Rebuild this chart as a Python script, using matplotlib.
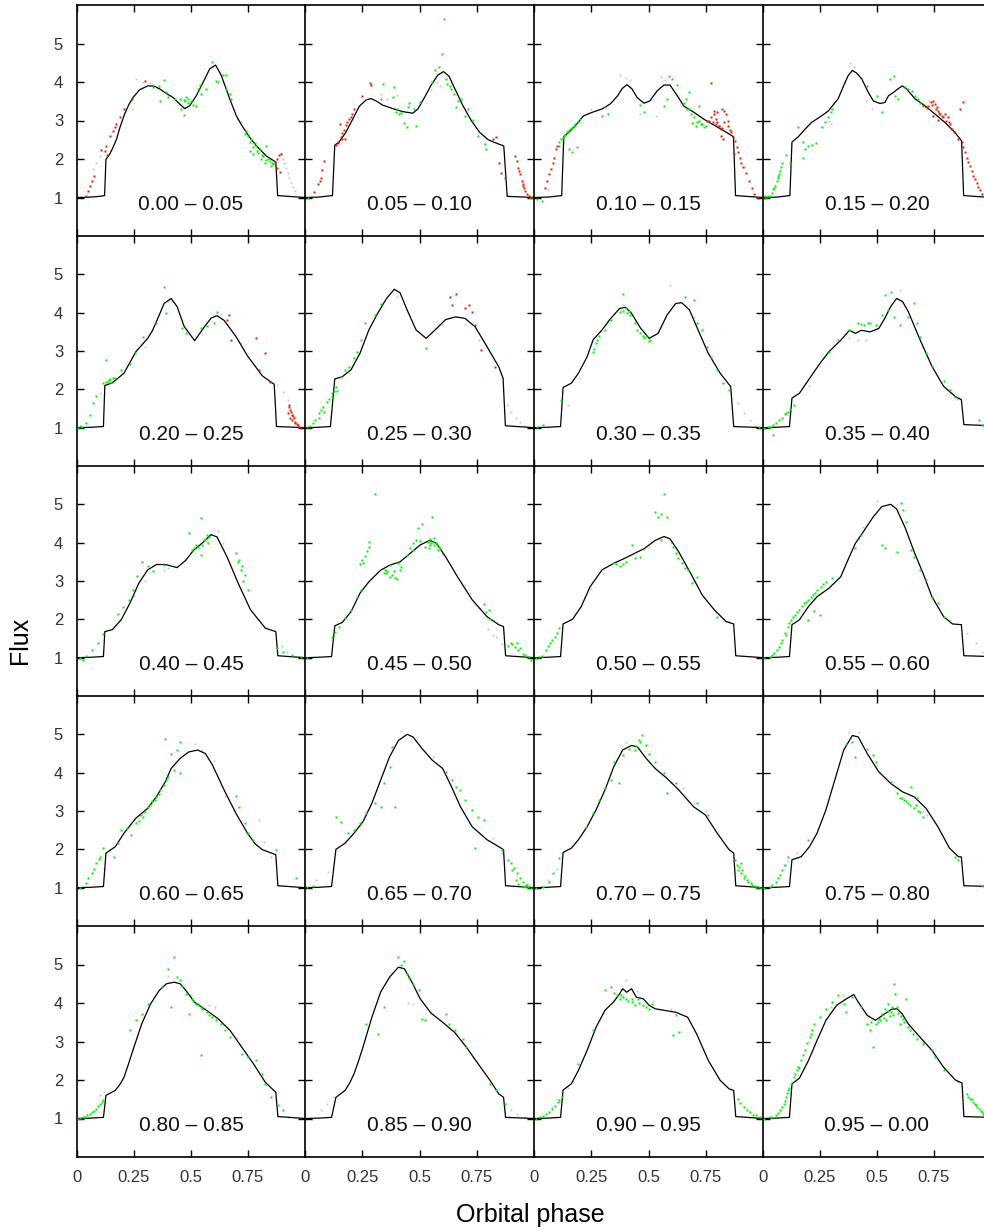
import matplotlib
matplotlib.use('Agg')
import matplotlib.pyplot as plt

# ---------------- data ----------------
panel_labels = ['0.00 \u2013 0.05', '0.05 \u2013 0.10', '0.10 \u2013 0.15', '0.15 \u2013 0.20',
                '0.20 \u2013 0.25', '0.25 \u2013 0.30', '0.30 \u2013 0.35', '0.35 \u2013 0.40',
                '0.40 \u2013 0.45', '0.45 \u2013 0.50', '0.50 \u2013 0.55', '0.55 \u2013 0.60',
                '0.60 \u2013 0.65', '0.65 \u2013 0.70', '0.70 \u2013 0.75', '0.75 \u2013 0.80',
                '0.80 \u2013 0.85', '0.85 \u2013 0.90', '0.90 \u2013 0.95', '0.95 \u2013 0.00']
x_ticks = [0, 0.25, 0.5, 0.75]
x_ticklabels = ['0', '0.25', '0.5', '0.75']
y_ticks = [1, 2, 3, 4, 5]

model_01 = [(0,1.0),(0.06,1.01),(0.10,1.03),(0.121,1.05),(0.127,1.99),(0.143,2.12),(0.158,2.3),(0.173,2.51),(0.19,2.85),(0.209,3.17),(0.228,3.42),(0.246,3.6),(0.275,3.8),(0.311,3.9),(0.34,3.89),(0.363,3.82),(0.392,3.7),(0.421,3.6),(0.45,3.43),(0.472,3.31),(0.494,3.38),(0.523,3.64),(0.553,3.99),(0.582,4.34),(0.608,4.44),(0.633,4.17),(0.67,3.56),(0.699,3.12),(0.72,2.9),(0.743,2.69),(0.765,2.5),(0.787,2.34),(0.83,2.08),(0.872,1.92),(0.880,1.05),(0.95,1.02),(1.0,1.0)]
green_01 = [(0.333,3.86),(0.36,3.89),(0.38,4.05),(0.363,3.51),(0.392,3.73),(0.428,3.56),(0.45,3.57),(0.468,3.53),(0.48,3.6),(0.458,3.3),(0.469,3.14),(0.487,3.45),(0.509,3.4),(0.523,3.38),(0.53,3.82),(0.538,3.92),(0.567,3.83),(0.594,4.53),(0.611,4.03),(0.618,3.99),(0.64,4.18),(0.652,4.18),(0.655,3.82),(0.67,3.69),(0.677,3.57),(0.743,2.73),(0.75,2.6),(0.765,2.51),(0.779,2.41),(0.787,2.34),(0.801,2.25),(0.794,2.15),(0.816,2.08),(0.83,2.34),(0.838,2.01),(0.852,1.83),(0.86,1.86),(0.757,2.21),(0.772,2.12),(0.808,1.99),(0.823,1.9),(0.40,3.62),(0.50,3.5),(0.545,3.7),(1.0,1.0),(0.737,2.65),(0.76,2.45),(0.77,2.3),(0.79,2.2),(0.81,2.1),(0.83,1.98),(0.845,1.95),(0.855,1.9),(0.488,3.55),(0.475,3.5)]
red_01 = [(0.038,1.05),(0.048,1.17),(0.056,1.30),(0.067,1.43),(0.073,1.56),(0.104,2.23),(0.121,2.21),(0.129,2.34),(0.133,2.10),(0.143,2.6),(0.158,2.73),(0.165,2.82),(0.173,2.9),(0.187,3.08),(0.205,3.30),(0.243,3.57),(0.3,4.02),(0.867,1.93),(0.877,2.01),(0.886,2.1),(0.893,2.14),(0.877,1.77),(0.892,1.66)]
grey_01 = [(0.07,1.73),(0.085,1.9),(0.1,2.08),(0.26,4.08),(0.29,4.0),(0.32,3.98),(0.35,3.85),(0.896,2.15),(0.905,2.0),(0.91,1.9),(0.918,1.77),(0.925,1.64),(0.932,1.5),(0.94,1.38),(0.948,1.27),(0.955,1.17),(0.977,1.02),(0.72,2.95),(0.70,3.05),(0.24,3.3),(0.56,4.1)]

model_02 = [(0,1.0),(0.06,1.01),(0.12,1.05),(0.13,2.36),(0.149,2.44),(0.178,2.69),(0.208,3.03),(0.237,3.37),(0.266,3.53),(0.288,3.57),(0.31,3.51),(0.339,3.4),(0.383,3.31),(0.427,3.23),(0.471,3.19),(0.493,3.3),(0.522,3.6),(0.551,3.92),(0.58,4.18),(0.605,4.27),(0.629,4.15),(0.654,3.83),(0.69,3.38),(0.727,2.99),(0.763,2.69),(0.8,2.5),(0.836,2.41),(0.868,2.34),(0.883,1.03),(1.0,1.0)]
green_02 = [(0.342,3.95),(0.332,3.56),(0.39,3.86),(0.386,3.6),(0.398,3.23),(0.412,3.17),(0.434,2.93),(0.444,2.82),(0.485,2.86),(0.456,3.45),(0.478,3.3),(0.449,3.34),(0.5,3.47),(0.556,3.99),(0.566,4.3),(0.585,4.38),(0.599,4.73),(0.605,5.64),(0.617,4.08),(0.632,3.89),(0.639,3.82),(0.661,3.34),(0.683,3.56),(0.697,3.12),(0.712,3.3),(0.734,3.02),(0.756,2.6),(0.785,2.38),(0.792,2.27),(0.982,1.0),(0.997,0.98),(0.012,1.0),(0.40,3.3),(0.42,3.2),(0.62,3.95),(0.65,3.7),(0.67,3.5)]
red_02 = [(0.039,1.14),(0.057,1.34),(0.064,1.43),(0.069,1.51),(0.076,1.71),(0.083,1.95),(0.137,2.37),(0.145,2.45),(0.156,2.56),(0.163,2.68),(0.178,2.88),(0.193,3.03),(0.205,3.17),(0.215,3.3),(0.161,2.53),(0.152,2.9),(0.175,2.51),(0.251,3.64),(0.284,3.97),(0.29,3.92),(0.822,2.53),(0.836,2.56),(0.848,1.9),(0.858,1.64),(0.873,1.51),(0.917,2.08),(0.924,1.95),(0.931,1.77),(0.939,1.6),(0.946,1.43),(0.953,1.3),(0.961,1.18),(0.968,1.1),(0.98,1.03),(0.99,1.02),(0.142,2.42),(0.17,2.75),(0.185,2.95),(0.2,3.1),(0.935,1.7),(0.95,1.35),(0.958,1.25)]
grey_02 = [(0.33,3.7),(0.36,3.55),(0.55,3.8),(0.575,4.0),(0.59,3.9),(0.40,3.65)]

model_03 = [(0,1.0),(0.06,1.01),(0.121,1.05),(0.13,2.58),(0.151,2.69),(0.18,2.86),(0.216,3.12),(0.253,3.21),(0.297,3.3),(0.333,3.43),(0.365,3.64),(0.385,3.83),(0.406,3.93),(0.428,3.82),(0.45,3.6),(0.48,3.45),(0.506,3.51),(0.538,3.77),(0.567,3.92),(0.594,3.92),(0.626,3.64),(0.655,3.37),(0.699,3.21),(0.743,3.03),(0.786,2.88),(0.83,2.73),(0.871,2.58),(0.880,1.05),(1.0,1.0)]
green_03 = [(0.012,0.95),(0.034,0.9),(0.107,2.34),(0.117,2.51),(0.13,2.6),(0.143,2.69),(0.158,2.77),(0.173,2.86),(0.194,2.97),(0.202,3.03),(0.151,2.25),(0.165,2.17),(0.187,2.3),(0.297,3.12),(0.311,3.34),(0.322,3.17),(0.465,3.4),(0.48,3.21),(0.567,3.38),(0.582,3.56),(0.589,4.15),(0.604,4.08),(0.626,3.92),(0.662,3.56),(0.67,3.3),(0.684,3.17),(0.699,3.08),(0.713,2.97),(0.728,2.9),(0.743,2.82),(0.692,2.93),(0.706,2.86),(0.721,3.38),(0.677,3.73),(1.0,1.05),(0.11,2.45),(0.125,2.55),(0.137,2.62),(0.15,2.72),(0.165,2.8),(0.18,2.9),(0.655,3.45),(0.675,3.3),(0.72,3.0),(0.735,2.92),(0.75,2.85)]
red_03 = [(0.048,1.25),(0.058,1.43),(0.067,1.6),(0.073,1.73),(0.082,1.9),(0.088,2.03),(0.096,2.25),(0.102,2.34),(0.757,2.99),(0.772,3.08),(0.775,3.97),(0.787,3.17),(0.794,3.03),(0.801,2.95),(0.808,2.86),(0.816,2.77),(0.784,3.25),(0.801,3.23),(0.823,3.3),(0.83,3.25),(0.838,3.17),(0.816,2.6),(0.827,2.51),(0.845,2.86),(0.86,2.69),(0.867,2.56),(0.877,2.47),(0.886,2.3),(0.892,2.17),(0.898,2.03),(0.904,1.9),(0.912,1.8),(0.925,1.64),(0.94,1.43),(0.95,1.25),(0.962,1.1),(0.98,1.0),(0.83,2.97),(0.845,3.0),(0.874,2.12),(0.765,3.0),(0.78,2.95),(0.795,2.9),(0.81,2.85),(0.82,2.8),(0.855,2.75)]
grey_03 = [(0.377,4.17),(0.40,4.1),(0.42,4.05),(0.553,4.12),(0.57,4.05),(0.465,3.17),(0.531,3.12),(0.25,3.3),(0.92,1.8),(0.06,1.2)]

model_04 = [(0,1.0),(0.06,1.01),(0.118,1.05),(0.127,2.44),(0.155,2.58),(0.184,2.77),(0.213,2.95),(0.257,3.12),(0.287,3.25),(0.33,3.57),(0.357,3.95),(0.374,4.17),(0.392,4.3),(0.411,4.23),(0.433,4.08),(0.462,3.73),(0.484,3.51),(0.513,3.44),(0.535,3.47),(0.55,3.64),(0.572,3.73),(0.594,3.83),(0.611,3.9),(0.63,3.82),(0.667,3.56),(0.711,3.38),(0.754,3.17),(0.798,2.95),(0.842,2.69),(0.871,2.47),(0.880,1.05),(1.0,1.0)]
green_04 = [(0.009,1.03),(0.023,1.05),(0.038,1.12),(0.045,1.21),(0.053,1.31),(0.06,1.43),(0.067,1.56),(0.075,1.69),(0.085,1.9),(0.099,2.1),(0.118,1.9),(0.152,2.82),(0.177,2.43),(0.184,2.25),(0.199,2.34),(0.216,2.36),(0.231,2.41),(0.174,2.03),(0.257,2.82),(0.272,2.95),(0.287,3.08),(0.298,3.21),(0.304,3.3),(0.455,3.9),(0.499,3.64),(0.52,3.23),(0.557,4.08),(0.576,4.15),(0.579,3.64),(0.594,3.57),(0.623,3.86),(0.637,3.83),(0.652,3.77),(0.667,3.64),(0.681,3.56),(0.689,3.45),(0.703,3.38),(0.015,1.0),(0.03,1.05),(0.05,1.25),(0.064,1.5),(0.07,1.62),(0.08,1.8)]
red_04 = [(0.005,1.0),(0.703,3.4),(0.713,3.34),(0.725,3.38),(0.737,3.47),(0.747,3.51),(0.754,3.43),(0.762,3.34),(0.769,3.25),(0.776,3.17),(0.784,3.12),(0.791,3.08),(0.798,3.17),(0.81,3.08),(0.82,2.9),(0.83,2.77),(0.839,2.69),(0.857,2.51),(0.864,3.3),(0.879,3.47),(0.871,2.44),(0.879,2.3),(0.886,2.17),(0.893,2.03),(0.901,1.92),(0.908,1.82),(0.915,1.69),(0.923,1.57),(0.93,1.47),(0.937,1.37),(0.944,1.28),(0.952,1.19),(0.962,1.1),(0.766,3.02),(0.747,3.12),(0.74,3.4),(0.758,3.3),(0.773,3.2),(0.803,3.0),(0.815,2.95)]
grey_04 = [(0.38,4.5),(0.39,4.3),(0.40,4.4),(0.36,4.0),(0.45,3.5),(0.48,3.3),(0.29,3.0),(0.30,2.9),(0.73,3.5),(0.72,3.3)]

model_05 = [(0,1.0),(0.06,1.01),(0.116,1.03),(0.122,2.1),(0.155,2.17),(0.206,2.42),(0.258,2.98),(0.31,3.33),(0.33,3.52),(0.348,3.76),(0.382,4.24),(0.413,4.37),(0.439,4.16),(0.47,3.64),(0.516,3.27),(0.555,3.6),(0.588,3.86),(0.614,3.92),(0.645,3.8),(0.697,3.38),(0.748,2.87),(0.813,2.35),(0.865,2.13),(0.875,1.03),(1.0,1.0)]
green_05 = [(0.013,1.05),(0.039,1.12),(0.057,1.34),(0.072,1.64),(0.083,1.83),(0.129,2.77),(0.116,2.16),(0.142,2.25),(0.168,2.29),(0.194,2.51),(0.232,2.66),(0.253,2.94),(0.29,3.37),(0.348,3.72),(0.382,4.67),(0.392,3.98),(0.459,3.6),(0.477,3.47),(0.542,3.6),(0.568,3.64),(0.614,4.02),(0.599,3.72),(0.02,1.02),(0.135,2.2),(0.15,2.2),(0.125,2.18),(0.145,2.28),(0.16,2.3),(0.005,1.0)]
red_05 = [(0.666,3.94),(0.658,3.8),(0.676,3.28),(0.787,3.34),(0.826,2.94),(0.8,2.5),(0.846,2.18),(0.929,1.6),(0.934,1.47),(0.942,1.34),(0.95,1.25),(0.955,1.16),(0.963,1.1),(0.973,1.03),(0.981,1.0),(0.924,1.38),(0.934,1.25),(0.93,1.55),(0.945,1.2),(0.938,1.4),(0.948,1.3),(0.958,1.12),(0.968,1.06)]
grey_05 = [(0.632,3.97),(0.66,3.7),(0.877,2.12),(0.903,1.94),(0.924,1.72),(0.30,3.1),(0.40,4.3),(0.55,3.45),(0.72,3.2),(0.10,1.9)]

model_06 = [(0,1.0),(0.06,1.01),(0.111,1.03),(0.13,2.27),(0.163,2.33),(0.201,2.51),(0.24,2.94),(0.279,3.55),(0.317,3.98),(0.356,4.37),(0.39,4.61),(0.415,4.52),(0.446,4.07),(0.485,3.55),(0.529,3.33),(0.575,3.59),(0.614,3.82),(0.658,3.89),(0.699,3.85),(0.743,3.63),(0.795,3.11),(0.846,2.59),(0.865,2.29),(0.875,1.05),(1.0,1.0)]
green_06 = [(0.008,1.03),(0.034,1.12),(0.059,1.38),(0.08,1.55),(0.098,1.68),(0.116,1.81),(0.137,2.07),(0.157,2.33),(0.175,2.51),(0.193,2.59),(0.214,2.81),(0.227,2.98),(0.245,3.28),(0.261,3.72),(0.305,3.93),(0.331,4.23),(0.059,1.25),(0.085,1.42),(0.529,3.07),(0.12,1.9),(0.14,1.95),(0.02,1.05),(0.045,1.2),(0.07,1.45),(0.105,1.75),(0.128,1.95)]
red_06 = [(0.635,4.41),(0.64,4.2),(0.658,4.5),(0.699,4.11),(0.717,4.2),(0.73,4.03),(0.743,3.68),(0.769,3.03),(0.828,2.59)]
grey_06 = [(0.88,1.6),(0.9,1.4),(0.92,1.25),(0.94,1.15),(0.96,1.05),(0.60,3.7),(0.70,3.7),(0.76,3.3),(0.40,4.4)]

model_07 = [(0,1.0),(0.06,1.01),(0.116,1.03),(0.127,2.05),(0.163,2.16),(0.194,2.42),(0.232,2.85),(0.258,3.29),(0.297,3.55),(0.335,3.85),(0.374,4.11),(0.4,4.14),(0.426,3.98),(0.465,3.6),(0.503,3.33),(0.542,3.46),(0.581,3.94),(0.619,4.24),(0.645,4.26),(0.679,4.07),(0.723,3.46),(0.761,2.94),(0.813,2.42),(0.859,2.07),(0.872,1.03),(1.0,1.0)]
green_07 = [(0.013,1.03),(0.039,1.08),(0.116,1.73),(0.258,2.98),(0.271,3.2),(0.284,3.38),(0.31,3.55),(0.335,3.81),(0.374,4.03),(0.387,4.5),(0.4,4.11),(0.413,4.05),(0.439,3.72),(0.465,3.48),(0.49,3.38),(0.508,3.29),(0.50,3.25),(0.658,4.41),(0.697,4.33),(0.71,3.72),(0.735,3.55),(0.756,3.11),(0.774,2.85),(0.8,2.51),(0.826,2.16),(0.852,1.99),(0.981,1.03),(0.42,3.95),(0.48,3.35),(0.39,4.05),(0.405,4.0),(0.45,3.55),(0.475,3.4),(0.26,3.05),(0.277,3.3)]
red_07 = []
grey_07 = [(0.89,1.64),(0.916,1.38),(0.942,1.21),(0.968,1.05),(0.594,4.71),(0.15,1.6),(0.20,2.3),(0.39,4.2),(0.55,3.6),(0.70,3.9)]

model_08 = [(0,1.0),(0.06,1.01),(0.116,1.03),(0.127,1.77),(0.16,1.9),(0.199,2.24),(0.25,2.68),(0.289,2.98),(0.341,3.28),(0.379,3.54),(0.405,3.46),(0.431,3.54),(0.47,3.5),(0.508,3.59),(0.534,3.85),(0.56,4.16),(0.586,4.37),(0.612,4.29),(0.637,4.03),(0.689,3.29),(0.741,2.6),(0.792,2.08),(0.844,1.81),(0.87,1.73),(0.881,1.08),(1.0,1.05)]
green_08 = [(0.005,1.0),(0.031,1.03),(0.057,1.12),(0.083,1.25),(0.108,1.42),(0.134,1.6),(0.044,0.82),(0.07,1.2),(0.095,1.35),(0.289,2.98),(0.328,3.28),(0.379,3.54),(0.418,3.72),(0.444,3.68),(0.47,3.74),(0.496,3.68),(0.521,3.94),(0.534,4.46),(0.56,4.55),(0.547,4.07),(0.573,3.89),(0.599,3.68),(0.637,3.89),(0.663,4.24),(0.676,3.72),(0.689,3.37),(0.715,2.94),(0.741,2.6),(0.792,2.21),(0.818,1.99),(0.844,1.81),(0.947,1.21),(0.96,1.08),(0.02,1.02),(0.045,1.08),(0.1,1.38),(0.12,1.5),(0.43,3.7),(0.46,3.72)]
red_08 = []
grey_08 = [(0.379,3.33),(0.418,3.29),(0.45,3.3),(0.60,4.6),(0.85,1.75),(0.2,2.1),(0.25,2.6),(0.70,3.1)]

model_09 = [(0,1.0),(0.06,1.01),(0.116,1.03),(0.122,1.68),(0.155,1.73),(0.194,1.99),(0.232,2.42),(0.271,2.94),(0.31,3.29),(0.348,3.43),(0.387,3.43),(0.439,3.35),(0.477,3.54),(0.511,3.8),(0.555,4.02),(0.588,4.21),(0.614,4.15),(0.658,3.63),(0.71,2.9),(0.761,2.25),(0.826,1.77),(0.872,1.68),(0.881,1.05),(1.0,1.0)]
green_09 = [(0.013,1.0),(0.039,1.05),(0.065,1.2),(0.09,1.37),(0.116,1.63),(0.181,2.15),(0.201,2.33),(0.227,2.51),(0.245,2.77),(0.263,3.12),(0.284,3.5),(0.31,3.38),(0.335,3.25),(0.382,3.42),(0.49,4.24),(0.503,3.8),(0.521,3.94),(0.542,4.64),(0.555,4.07),(0.568,4.2),(0.573,3.98),(0.542,3.68),(0.697,3.72),(0.71,3.55),(0.723,3.38),(0.735,3.16),(0.748,2.77),(0.877,1.25),(0.903,1.16),(0.942,1.08),(0.981,1.03),(0.026,0.95),(0.53,3.9),(0.56,4.1),(0.515,3.85),(0.548,3.95),(0.58,4.15),(0.705,3.5),(0.718,3.3),(0.73,3.0)]
red_09 = []
grey_09 = [(0.38,3.3),(0.40,3.35),(0.30,3.0),(0.62,4.3),(0.64,4.0),(0.90,1.3),(0.92,1.15),(0.25,2.6)]

model_10 = [(0,1.0),(0.06,1.01),(0.116,1.03),(0.13,1.83),(0.163,1.92),(0.201,2.2),(0.24,2.68),(0.279,2.98),(0.33,3.28),(0.369,3.41),(0.415,3.5),(0.459,3.72),(0.503,3.94),(0.545,4.06),(0.575,3.98),(0.614,3.63),(0.666,3.11),(0.73,2.51),(0.795,2.07),(0.846,1.86),(0.867,1.81),(0.876,1.05),(1.0,1.0)]
green_10 = [(0.008,1.0),(0.116,1.55),(0.132,1.68),(0.15,1.81),(0.175,2.03),(0.201,2.25),(0.227,2.59),(0.245,2.77),(0.253,3.46),(0.279,4.02),(0.305,5.27),(0.343,3.2),(0.369,3.11),(0.395,3.07),(0.408,3.46),(0.421,3.37),(0.447,3.67),(0.459,3.85),(0.472,3.98),(0.485,4.07),(0.493,4.37),(0.511,4.5),(0.524,3.89),(0.537,4.02),(0.55,3.98),(0.563,4.11),(0.575,3.94),(0.555,4.67),(0.803,2.25),(0.898,1.38),(0.916,1.29),(0.932,1.21),(0.95,1.1),(0.976,1.02),(0.988,0.95),(0.369,3.41),(0.35,3.3),(0.54,4.05),(0.545,3.95),(0.905,1.35),
            (0.24,3.45),(0.25,3.55),(0.26,3.65),(0.27,3.78),(0.28,3.9),(0.355,3.2),(0.38,3.15),(0.39,3.25),(0.40,3.05),(0.36,3.25),(0.415,3.3),(0.54,3.85),(0.548,4.1),(0.56,4.03),(0.565,3.93),(0.57,4.0),(0.585,3.9),(0.59,3.85),(0.58,3.8),(0.47,3.8),(0.50,4.05),(0.78,2.4),(0.79,2.2),(0.81,2.0),(0.887,1.31),(0.924,1.38),(0.94,1.25),(0.96,1.08)]
red_10 = []
grey_10 = [(0.72,2.7),(0.834,1.55),(0.86,1.35),(0.7,2.9),(0.02,0.98),(0.60,3.7),(0.76,2.3),(0.80,1.75),(0.82,1.6)]

model_11 = [(0,1.0),(0.06,1.01),(0.116,1.03),(0.127,1.88),(0.168,2.0),(0.206,2.33),(0.245,2.85),(0.297,3.29),(0.348,3.46),(0.395,3.59),(0.439,3.72),(0.483,3.85),(0.529,4.06),(0.568,4.16),(0.594,4.1),(0.632,3.76),(0.684,3.2),(0.735,2.63),(0.787,2.25),(0.839,1.94),(0.872,1.88),(0.881,1.05),(1.0,1.0)]
green_11 = [(0.008,1.0),(0.034,1.05),(0.052,1.21),(0.072,1.38),(0.09,1.55),(0.111,1.77),(0.343,3.46),(0.374,3.39),(0.4,3.5),(0.426,3.93),(0.439,3.59),(0.465,3.63),(0.529,4.8),(0.555,4.76),(0.568,5.27),(0.581,4.67),(0.542,4.67),(0.555,4.06),(0.607,3.89),(0.619,3.72),(0.645,3.46),(0.671,3.29),(0.689,2.94),(0.71,3.11),(0.8,2.07),(0.02,1.02),(0.06,1.3),(0.08,1.45),(0.1,1.65),(0.36,3.45),(0.39,3.45),(0.63,3.6),(0.66,3.35)]
red_11 = []
grey_11 = [(0.30,3.2),(0.25,2.8),(0.48,3.8),(0.50,3.9),(0.85,1.95),(0.60,4.0),(0.70,3.0)]

model_12 = [(0,1.0),(0.06,1.01),(0.116,1.03),(0.127,1.86),(0.16,1.99),(0.199,2.33),(0.237,2.59),(0.289,2.81),(0.341,3.11),(0.366,3.46),(0.405,3.98),(0.444,4.32),(0.483,4.67),(0.521,4.94),(0.56,5.0),(0.586,4.88),(0.625,4.37),(0.663,3.76),(0.702,3.2),(0.741,2.59),(0.792,2.07),(0.831,1.88),(0.87,1.86),(0.881,1.05),(1.0,1.03)]
green_12 = [(0.005,1.0),(0.031,1.02),(0.049,1.12),(0.07,1.29),(0.083,1.47),(0.095,1.64),(0.108,1.81),(0.121,1.99),(0.142,2.12),(0.16,2.25),(0.178,2.42),(0.199,2.51),(0.219,2.64),(0.237,2.77),(0.255,2.85),(0.276,2.98),(0.302,3.07),(0.224,2.21),(0.25,2.12),(0.199,1.99),(0.405,3.85),(0.431,4.2),(0.521,3.94),(0.534,3.85),(0.586,3.76),(0.612,4.85),(0.606,5.04),(0.625,4.54),(0.65,3.81),(0.663,3.63),(0.689,3.29),(0.715,3.03),(0.741,2.59),(0.767,2.42),(0.792,2.07),(0.06,1.2),(0.10,1.6),(0.04,1.06),(0.077,1.38),(0.115,1.9),(0.13,2.05),(0.15,2.18),(0.17,2.35),(0.19,2.46),(0.21,2.58),(0.23,2.7),(0.265,2.92)]
red_12 = []
grey_12 = [(0.818,1.99),(0.895,1.64),(0.934,1.38),(0.96,1.16),(0.44,4.4),(0.50,5.1),(0.42,4.1),(0.35,3.3)]

model_13 = [(0,1.0),(0.06,1.01),(0.116,1.03),(0.127,1.9),(0.168,2.07),(0.206,2.42),(0.258,2.81),(0.31,3.07),(0.348,3.37),(0.387,3.76),(0.413,4.11),(0.452,4.37),(0.49,4.54),(0.529,4.59),(0.563,4.5),(0.594,4.2),(0.645,3.55),(0.697,2.94),(0.748,2.42),(0.78,2.15),(0.813,1.99),(0.872,1.86),(0.881,1.05),(1.0,1.0)]
green_13 = [(0.013,1.0),(0.039,1.12),(0.065,1.38),(0.083,1.64),(0.103,1.81),(0.116,2.03),(0.161,1.81),(0.181,2.16),(0.194,2.51),(0.219,2.55),(0.237,2.38),(0.258,2.68),(0.279,2.9),(0.297,2.98),(0.31,3.11),(0.33,3.25),(0.348,3.37),(0.366,3.55),(0.382,3.68),(0.4,3.9),(0.426,4.07),(0.413,4.5),(0.439,4.59),(0.387,4.89),(0.452,4.8),(0.452,3.98),(0.697,3.38),(0.71,3.11),(0.735,2.68),(0.748,2.42),(0.774,2.25),(0.872,1.99),(0.96,1.25),(0.27,2.75),(0.29,2.85),(0.05,1.25),(0.075,1.5),(0.095,1.75),(0.32,3.15),(0.34,3.3),(0.36,3.45),(0.39,3.8)]
red_13 = []
grey_13 = [(0.8,2.77),(0.82,2.2),(0.85,1.8),(0.516,4.76),(0.55,4.6),(0.60,4.3),(0.65,3.4),(0.12,1.5)]

model_14 = [(0,1.0),(0.06,1.01),(0.116,1.03),(0.135,2.0),(0.175,2.16),(0.214,2.42),(0.253,2.72),(0.292,3.2),(0.33,3.8),(0.369,4.41),(0.408,4.84),(0.446,5.0),(0.472,4.93),(0.511,4.63),(0.555,4.33),(0.601,4.11),(0.64,3.63),(0.679,3.11),(0.73,2.59),(0.795,2.25),(0.846,2.07),(0.867,1.99),(0.876,1.05),(1.0,1.0)]
green_14 = [(0.008,1.02),(0.034,1.05),(0.137,2.85),(0.157,2.72),(0.188,2.42),(0.214,2.51),(0.24,2.68),(0.266,2.94),(0.305,3.2),(0.33,3.11),(0.343,3.72),(0.369,4.15),(0.395,3.11),(0.382,4.67),(0.614,4.02),(0.64,3.81),(0.658,3.63),(0.679,3.55),(0.699,3.29),(0.73,3.03),(0.756,2.85),(0.782,2.77),(0.743,2.03),(0.859,1.99),(0.885,1.73),(0.898,1.64),(0.911,1.51),(0.924,1.38),(0.937,1.25),(0.95,1.16),(0.963,1.08),(0.975,1.03),(0.988,0.99),(0.92,1.2),(0.95,1.05),(0.93,1.1),(0.96,1.02),(0.97,1.06),(0.905,1.45)]
red_14 = []
grey_14 = [(0.05,1.2),(0.1,1.4),(0.42,5.1),(0.50,4.7),(0.56,4.4),(0.62,3.9),(0.82,2.3),(0.86,1.9)]

model_15 = [(0,1.0),(0.06,1.01),(0.116,1.03),(0.127,1.92),(0.163,2.03),(0.194,2.25),(0.232,2.59),(0.271,3.03),(0.31,3.55),(0.348,4.15),(0.387,4.59),(0.426,4.71),(0.452,4.67),(0.49,4.37),(0.529,4.11),(0.581,3.85),(0.632,3.55),(0.697,3.11),(0.748,2.9),(0.8,2.42),(0.852,1.99),(0.872,1.9),(0.881,1.05),(1.0,1.0)]
green_15 = [(0.008,1.0),(0.039,1.03),(0.065,1.16),(0.085,1.38),(0.111,1.77),(0.227,2.59),(0.258,2.94),(0.284,3.29),(0.31,3.59),(0.335,3.81),(0.348,4.28),(0.369,3.72),(0.387,4.46),(0.413,4.63),(0.439,4.59),(0.457,4.85),(0.472,4.98),(0.49,4.72),(0.503,4.5),(0.529,4.28),(0.568,3.98),(0.581,3.46),(0.619,3.72),(0.71,3.2),(0.761,2.9),(0.877,1.73),(0.89,1.47),(0.903,1.38),(0.916,1.25),(0.929,1.21),(0.947,1.12),(0.963,1.05),(0.981,1.02),(0.903,1.64),(0.92,1.3),(0.95,1.08),(0.885,1.6),(0.895,1.55),(0.91,1.45),(0.935,1.15),(0.97,1.0),(0.99,1.0),(0.445,4.7),(0.465,4.8)]
red_15 = []
grey_15 = [(0.60,3.75),(0.65,3.6),(0.70,3.2),(0.75,3.0),(0.40,4.8),(0.10,1.5),(0.06,1.2),(0.97,1.0)]

model_16 = [(0,1.0),(0.06,1.01),(0.116,1.03),(0.127,1.73),(0.168,1.81),(0.204,2.07),(0.237,2.42),(0.276,3.03),(0.315,3.81),(0.354,4.59),(0.392,4.97),(0.418,4.93),(0.457,4.5),(0.508,4.02),(0.56,3.72),(0.612,3.5),(0.663,3.37),(0.715,3.07),(0.767,2.59),(0.818,2.03),(0.857,1.81),(0.87,1.8),(0.881,1.05),(1.0,1.03)]
green_16 = [(0.005,1.0),(0.031,1.03),(0.057,1.16),(0.075,1.34),(0.095,1.6),(0.108,1.81),(0.199,2.25),(0.366,4.76),(0.392,4.8),(0.405,4.41),(0.457,4.63),(0.483,4.46),(0.496,4.28),(0.56,3.76),(0.586,3.46),(0.599,3.33),(0.617,3.29),(0.637,3.2),(0.65,3.63),(0.663,3.07),(0.689,2.98),(0.702,2.85),(0.676,3.33),(0.844,1.81),(0.857,1.73),(0.96,1.05),(0.61,3.35),(0.67,3.15),(0.04,1.08),(0.065,1.25),(0.085,1.45),(0.625,3.25),(0.645,3.15),(0.68,3.0)]
red_16 = []
grey_16 = [(0.09,1.6),(0.11,1.7),(0.15,1.9),(0.379,5.07),(0.42,5.05),(0.50,4.2),(0.72,2.9),(0.78,2.4),(0.70,3.0)]

model_17 = [(0,1.0),(0.06,1.01),(0.116,1.03),(0.127,1.6),(0.168,1.73),(0.19,1.9),(0.206,2.07),(0.225,2.4),(0.245,2.77),(0.284,3.46),(0.323,3.98),(0.361,4.33),(0.392,4.5),(0.426,4.54),(0.452,4.5),(0.477,4.33),(0.516,4.02),(0.568,3.81),(0.619,3.59),(0.671,3.29),(0.723,2.85),(0.774,2.42),(0.826,1.94),(0.872,1.68),(0.881,1.05),(1.0,1.0)]
green_17 = [(0.005,1.0),(0.026,1.03),(0.046,1.08),(0.065,1.16),(0.083,1.25),(0.103,1.38),(0.116,1.47),(0.015,1.02),(0.232,3.29),(0.258,3.55),(0.284,3.72),(0.31,3.98),(0.374,4.41),(0.4,4.89),(0.426,5.19),(0.439,4.67),(0.413,3.89),(0.452,4.59),(0.477,4.24),(0.49,3.72),(0.503,4.11),(0.521,3.98),(0.542,3.89),(0.542,2.64),(0.568,3.76),(0.594,3.63),(0.632,3.46),(0.671,3.11),(0.723,2.68),(0.748,2.59),(0.787,2.51),(0.813,2.16),(0.826,1.9),(0.852,1.55),(0.883,1.34),(0.903,1.21),(0.035,1.05),(0.055,1.12),(0.075,1.2),(0.092,1.32),(0.11,1.42),(0.46,4.45),(0.51,4.05),(0.53,3.95),(0.55,3.85),(0.58,3.7),(0.61,3.55),(0.65,3.3)]
red_17 = []
grey_17 = [(0.606,3.89),(0.58,3.95),(0.50,4.2),(0.40,4.7),(0.12,1.7),(0.10,1.6),(0.93,1.05),(0.70,3.1)]

model_18 = [(0,1.0),(0.06,1.01),(0.116,1.03),(0.135,1.55),(0.175,1.73),(0.195,1.92),(0.214,2.16),(0.233,2.48),(0.253,2.85),(0.292,3.63),(0.33,4.28),(0.369,4.67),(0.408,4.93),(0.434,4.89),(0.467,4.54),(0.503,4.11),(0.55,3.74),(0.601,3.5),(0.653,3.24),(0.705,2.85),(0.756,2.42),(0.808,1.99),(0.846,1.64),(0.867,1.55),(0.876,1.03),(1.0,1.0)]
green_18 = [(0.266,3.46),(0.317,3.2),(0.343,3.89),(0.408,5.19),(0.434,5.1),(0.446,4.76),(0.472,4.5),(0.498,4.33),(0.524,3.55),(0.511,3.59),(0.614,3.72),(0.627,3.46),(0.653,3.29),(0.692,3.07),(0.705,2.85),(0.808,1.9),(0.834,1.73),(0.872,1.38),(0.42,5.0),(0.455,4.65)]
red_18 = []
grey_18 = [(0.03,1.0),(0.072,1.21),(0.098,1.38),(0.124,1.55),(0.472,3.98),(0.898,1.21),(0.924,1.12),(0.96,1.03),(0.45,4.0),(0.0,0.95)]

model_19 = [(0,1.0),(0.06,1.01),(0.116,1.03),(0.127,1.74),(0.163,1.9),(0.194,2.25),(0.232,2.77),(0.271,3.37),(0.31,3.81),(0.348,4.03),(0.374,4.24),(0.387,4.37),(0.405,4.28),(0.426,4.37),(0.447,4.15),(0.477,4.11),(0.503,3.94),(0.529,3.85),(0.568,3.81),(0.619,3.76),(0.671,3.63),(0.71,3.2),(0.761,2.51),(0.813,1.99),(0.852,1.77),(0.872,1.73),(0.881,1.05),(1.0,1.0)]
green_19 = [(0.008,1.0),(0.026,1.03),(0.052,1.12),(0.077,1.25),(0.103,1.42),(0.121,1.55),(0.194,2.42),(0.258,3.29),(0.31,4.33),(0.335,4.41),(0.361,4.2),(0.374,4.11),(0.4,4.11),(0.426,4.03),(0.452,4.11),(0.477,3.94),(0.503,3.85),(0.516,3.98),(0.606,3.16),(0.619,3.68),(0.632,3.24),(0.89,1.51),(0.916,1.29),(0.942,1.16),(0.968,1.08),(0.988,1.03),(0.35,4.25),(0.39,4.15),(0.44,3.95),(0.04,1.06),(0.065,1.18),(0.09,1.33),(0.11,1.48),(0.38,4.2),(0.41,4.05),(0.43,4.1),(0.46,4.0),(0.49,3.9),(0.9,1.4),(0.93,1.22),(0.955,1.1)]
red_19 = []
grey_19 = [(0.40,4.6),(0.45,4.3),(0.52,4.05),(0.15,1.8),(0.10,1.5),(0.08,1.3),(0.60,3.85)]

model_20 = [(0,1.0),(0.06,1.01),(0.116,1.03),(0.127,1.9),(0.16,2.05),(0.199,2.5),(0.237,3.03),(0.276,3.55),(0.323,3.94),(0.366,4.11),(0.398,4.22),(0.418,4.02),(0.457,3.68),(0.493,3.55),(0.534,3.72),(0.565,3.84),(0.588,3.85),(0.61,3.72),(0.637,3.46),(0.689,3.11),(0.741,2.77),(0.792,2.33),(0.844,2.0),(0.873,1.92),(0.881,1.05),(1.0,1.03)]
green_20 = [(0.005,1.0),(0.031,1.03),(0.057,1.1),(0.075,1.21),(0.09,1.38),(0.101,1.55),(0.111,1.73),(0.121,1.9),(0.134,2.07),(0.147,2.25),(0.168,2.51),(0.186,2.77),(0.204,3.11),(0.224,3.46),(0.25,3.63),(0.276,3.85),(0.302,4.03),(0.328,4.2),(0.354,3.98),(0.366,3.76),(0.392,4.15),(0.431,3.89),(0.457,3.46),(0.47,3.29),(0.483,2.86),(0.496,3.46),(0.508,3.59),(0.521,3.72),(0.534,3.85),(0.547,3.98),(0.56,3.76),(0.573,4.5),(0.581,4.24),(0.586,3.89),(0.599,3.46),(0.612,3.59),(0.625,4.11),(0.637,3.37),(0.658,3.2),(0.676,3.07),(0.702,2.94),(0.741,2.77),(0.754,2.59),(0.792,2.25),(0.895,1.64),(0.908,1.51),(0.921,1.42),(0.934,1.34),(0.947,1.25),(0.96,1.16),(0.16,2.3),(0.21,3.2),(0.53,3.6),(0.55,3.8),(0.57,3.7),
            (0.04,1.05),(0.065,1.15),(0.083,1.3),(0.095,1.45),(0.106,1.65),(0.116,1.8),(0.14,2.15),(0.155,2.35),(0.175,2.65),(0.195,2.95),(0.215,3.3),(0.475,3.5),(0.505,3.5),(0.515,3.55),(0.54,3.55),(0.555,3.65),(0.565,3.9),(0.59,3.75),(0.605,3.65),(0.62,3.5),(0.645,3.3),(0.9,1.55),(0.915,1.5),(0.928,1.38),(0.94,1.3),(0.955,1.2),(0.965,1.12)]
red_20 = []
grey_20 = [(0.20,3.0),(0.30,3.9),(0.35,4.2),(0.45,3.75),(0.70,3.0),(0.80,2.3),(0.85,1.95)]

panels = [
    (model_01, green_01, red_01, grey_01), (model_02, green_02, red_02, grey_02),
    (model_03, green_03, red_03, grey_03), (model_04, green_04, red_04, grey_04),
    (model_05, green_05, red_05, grey_05), (model_06, green_06, red_06, grey_06),
    (model_07, green_07, red_07, grey_07), (model_08, green_08, red_08, grey_08),
    (model_09, green_09, red_09, grey_09), (model_10, green_10, red_10, grey_10),
    (model_11, green_11, red_11, grey_11), (model_12, green_12, red_12, grey_12),
    (model_13, green_13, red_13, grey_13), (model_14, green_14, red_14, grey_14),
    (model_15, green_15, red_15, grey_15), (model_16, green_16, red_16, grey_16),
    (model_17, green_17, red_17, grey_17), (model_18, green_18, red_18, grey_18),
    (model_19, green_19, red_19, grey_19), (model_20, green_20, red_20, grey_20),
]

# ---------------- plotting ----------------
plt.rcParams['font.family'] = ['Liberation Sans', 'DejaVu Sans']

W, H = 984, 1231
fig = plt.figure(figsize=(W / 100, H / 100), dpi=100)

col_edges = [77, 305, 534, 763, 991]
row_edges = [5, 236, 466, 696, 926, 1157]

def xy(points):
    return [p[0] for p in points], [p[1] for p in points]

for i, (model, green, red, grey) in enumerate(panels):
    r, c = divmod(i, 4)
    x0, x1 = col_edges[c], col_edges[c + 1]
    y0, y1 = row_edges[r], row_edges[r + 1]
    ax = fig.add_axes([x0 / W, 1 - y1 / H, (x1 - x0) / W, (y1 - y0) / H])
    ax.set_xlim(0, 1)
    ax.set_ylim(0, 6)

    if grey:
        gx, gy = xy(grey)
        ax.plot(gx, gy, ls='none', marker='s', ms=1.3, mec='none', mfc='#c8c8c8', zorder=1)
    mx, my = xy(model)
    ax.plot(mx, my, color='black', lw=0.9, zorder=2, solid_joinstyle='round')
    if green:
        gx, gy = xy(green)
        ax.plot(gx, gy, ls='none', marker='s', ms=2.1, mec='none', mfc='#00ee00', zorder=3)
    if red:
        rx, ry = xy(red)
        ax.plot(rx, ry, ls='none', marker='s', ms=2.1, mec='none', mfc='#dd2200', zorder=3)

    ax.text(0.5, 0.82, panel_labels[i], ha='center', va='center', fontsize=15, color='#111111')

    ax.set_xticks(x_ticks)
    ax.set_yticks(y_ticks)
    ax.tick_params(direction='in', length=5, width=1.0, top=True, right=True,
                   labelsize=12, color='black', labelcolor='#333333')
    ax.tick_params(axis='x', pad=9)
    ax.tick_params(axis='y', pad=10)
    if r == 4:
        ax.set_xticklabels(x_ticklabels)
    else:
        ax.set_xticklabels([])
    if c == 0:
        ax.set_yticklabels([str(v) for v in y_ticks])
    else:
        ax.set_yticklabels([])
    for s in ax.spines.values():
        s.set_linewidth(1.2)
        s.set_color('black')
    if c < 3:
        ax.spines['right'].set_visible(False)
    if r < 4:
        ax.spines['bottom'].set_visible(False)
    ax.set_facecolor('none')

fig.text(20 / W, 1 - 640 / H, 'Flux', rotation=90, ha='center', va='center', fontsize=18)
fig.text(530 / W, 1 - 1215 / H, 'Orbital phase', ha='center', va='center', fontsize=18)

fig.savefig('out.png', dpi=100)
